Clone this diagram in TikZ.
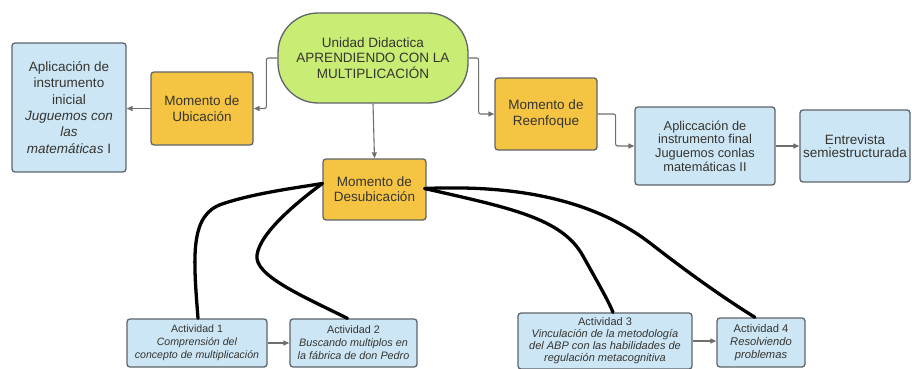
\documentclass[tikz,border=0pt]{standalone}
\usepackage{fontspec}
\setmainfont{Liberation Sans}
\usetikzlibrary{arrows.meta,calc}

\definecolor{limefill}{HTML}{C8EC74}
\definecolor{orangefill}{HTML}{F6C443}
\definecolor{bluefill}{HTML}{CDE6F6}
\definecolor{boxline}{HTML}{5E646A}
\definecolor{linkgrey}{HTML}{6E6E6E}
\definecolor{txt}{HTML}{35352F}

\tikzset{
  base/.style={draw=boxline, line width=1.3pt, rounded corners=3pt, align=center,
    text=txt, inner sep=1pt},
  topic/.style={base, fill=limefill, rounded corners=40pt, font=\fontsize{13.5}{15.5}\selectfont},
  moment/.style={base, fill=orangefill, font=\fontsize{13.5}{16}\selectfont},
  instr/.style={base, fill=bluefill, font=\fontsize{13.5}{16.3}\selectfont},
  activity/.style={base, fill=bluefill, font=\fontsize{10.5}{12.5}\selectfont},
  link/.style={draw=linkgrey, line width=1.1pt, rounded corners=2pt,
    -{Triangle[length=6pt,width=5pt]}},
  bond/.style={draw=black, line width=3.3pt, line cap=round, line join=round},
}

\begin{document}
\begin{tikzpicture}[x=1pt,y=-1pt]
\useasboundingbox (0,0) rectangle (912,369);

% central topic
\node[topic, minimum width=190pt, minimum height=90pt] (unit) at (373,58)
  {Unidad Didactica\\APRENDIENDO CON LA\\MULTIPLICACIÓN};

% the three moments
\node[moment, minimum width=102pt, minimum height=73pt] (ubic) at (202,108.5)
  {Momento de\\Ubicación};
\node[moment, minimum width=102pt, minimum height=72pt] (reen) at (546,114)
  {Momento de\\Reenfoque};
\node[moment, minimum width=103pt, minimum height=61pt, font=\fontsize{13.5}{15}\selectfont]
  (desub) at (374.5,189.5) {Momento de\\Desubicación};

% instruments
\node[instr, minimum width=114pt, minimum height=129pt] (inicial) at (69,107.5)
  {Aplicación de\\instrumento\\inicial\\\textit{Juguemos con}\\\textit{las}\\\textit{matemáticas} I};
\node[instr, minimum width=140pt, minimum height=78pt, font=\fontsize{12.8}{13.6}\selectfont]
  (final) at (705,146)
  {Apliccación de\\instrumento final\\Juguemos conlas\\matemáticas II};
\node[instr, minimum width=110pt, minimum height=72pt, inner sep=0pt,
  font=\fontsize{13.5}{12.5}\selectfont] (entrev) at (855,146)
  {Entrevista\\semiestructurada};

% activities
\node[activity, minimum width=140pt, minimum height=48pt, font=\fontsize{10.6}{13}\selectfont]
  (act1) at (197,343)
  {Actividad 1\\\textit{Comprensión del}\\\textit{concepto de multiplicación}};
\node[activity, minimum width=127pt, minimum height=48pt, font=\fontsize{10.8}{13}\selectfont]
  (act2) at (353.5,343)
  {Actividad 2\\\textit{Buscando multiplos en}\\\textit{la fábrica de don Pedro}};
\node[activity, minimum width=174pt, minimum height=56pt, font=\fontsize{11}{12}\selectfont]
  (act3) at (605,341)
  {Actividad 3\\\textit{Vinculación de la metodología}\\\textit{del ABP con las habilidades de}\\\textit{regulación metacognitiva}};
\node[activity, minimum width=88pt, minimum height=49pt, font=\fontsize{11.2}{13}\selectfont]
  (act4) at (761,342.5)
  {Actividad 4\\\textit{Resolviendo}\\\textit{problemas}};

% grey connectors
\draw[link] (unit.west) -- ++(-11,0) |- (ubic.east);
\draw[link] (ubic.west) -- (inicial.east |- ubic.west);
\draw[link] (unit.east) -- ++(10,0) |- (reen.west);
\draw[link] (reen.east) -- ++(18,0) |- (final.west);
\draw[link] (final.east) -- (entrev.west);
\draw[link] (unit.south) -- (desub.north);
\draw[link] (act1.east) -- (act2.west);
\draw[link] (act3.east) -- (act4.west |- act3.east);

% black strokes from the activities to Desubicación
\coordinate (dl) at ($(desub.west)+(0,-6)$);
\coordinate (dr) at ($(desub.east)+(-2,-1)$);
\coordinate (a1) at ($(act1.north)+(1,0)$);
\coordinate (a2) at ($(act2.north)+(-6,0)$);
\coordinate (a3) at ($(act3.north)+(8,0)$);
\coordinate (a4) at ($(act4.north)+(-6,0)$);

\draw[bond] (a1) .. controls (193,255) and (190,215) .. (222,204)
               .. controls (255,193) and (295,188) .. (dl);
\draw[bond] (a2) .. controls (300,295) and (254,275) .. (257,255)
               .. controls (260,232) and (300,200) .. (dl);
\draw[bond] (dr) .. controls (510,208) and (562,218) .. (583,256)
               .. controls (598,283) and (608,300) .. (a3);
\draw[bond] (dr) .. controls (530,184) and (600,205) .. (650,243)
               .. controls (700,282) and (735,305) .. (a4);
\end{tikzpicture}
\end{document}
